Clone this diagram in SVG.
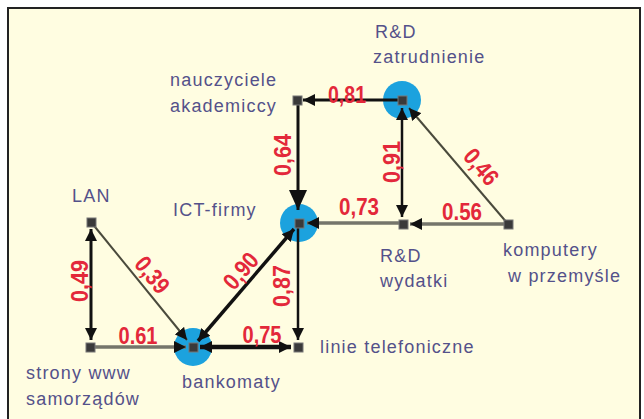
<svg xmlns="http://www.w3.org/2000/svg" width="644" height="419" viewBox="0 0 644 419">
<style>
.lbl{font-family:"Liberation Sans",Arial,sans-serif;font-size:18px;fill:#54518a;letter-spacing:1.2px}
.num{font-family:"Liberation Sans",Arial,sans-serif;font-size:24px;font-weight:bold;fill:#e3283a;text-anchor:middle}
.blk{stroke:#111;fill:none}
.gry{stroke:#75756a;fill:none;stroke-width:3.5}
.thin{stroke:#4a4a3c;fill:none;stroke-width:2}
.sq{fill:#3a3a3a;stroke:#777;stroke-width:1}
.circ{fill:#1ca2de}
</style>
<defs>
<marker id="ah" markerUnits="userSpaceOnUse" markerWidth="12" markerHeight="12" viewBox="0 0 12 12" refX="12" refY="6" orient="auto">
<path d="M0,0 L12,6 L0,12 z" fill="#111"/>
</marker>
<marker id="ahs" markerUnits="userSpaceOnUse" markerWidth="12" markerHeight="12" viewBox="0 0 12 12" refX="12" refY="6" orient="auto-start-reverse">
<path d="M0,0 L12,6 L0,12 z" fill="#111"/>
</marker>
<marker id="big" markerUnits="userSpaceOnUse" markerWidth="20" markerHeight="18" viewBox="0 0 20 18" refX="20" refY="9" orient="auto">
<path d="M0,0 L20,9 L0,18 z" fill="#111"/>
</marker>
</defs>
<rect x="0" y="0" width="644" height="419" fill="#ffffff"/>
<rect x="8" y="8" width="632" height="420" fill="#fffde1" stroke="#222" stroke-width="2"/>

<g id="circles">
<circle class="circ" cx="402" cy="100" r="19"/>
<circle class="circ" cx="299" cy="223" r="19"/>
<circle class="circ" cx="193" cy="347" r="19"/>
</g>

<g id="connectors">
<line class="blk" stroke-width="3" x1="402" y1="100" x2="303" y2="100" marker-end="url(#ah)"/>
<line class="blk" stroke-width="3" x1="298" y1="100" x2="298" y2="210" marker-end="url(#big)"/>
<line class="blk" stroke-width="2.5" x1="402" y1="108" x2="402" y2="217" marker-start="url(#ahs)" marker-end="url(#ah)"/>
<line class="thin" x1="508" y1="224" x2="409" y2="108" marker-end="url(#ah)"/>
<line class="gry" x1="508" y1="224" x2="410" y2="224" marker-end="url(#ah)"/>
<line class="gry" x1="403" y1="223" x2="307" y2="223" marker-end="url(#ah)"/>
<line class="blk" stroke-width="3.5" x1="198" y1="341" x2="294" y2="229" marker-start="url(#ahs)" marker-end="url(#ah)"/>
<line class="blk" stroke-width="2.5" x1="298" y1="223" x2="298" y2="340" marker-end="url(#ah)"/>
<line class="blk" stroke-width="4.5" x1="200" y1="347" x2="291" y2="347" marker-start="url(#ahs)" marker-end="url(#ah)"/>
<line class="gry" x1="90" y1="347" x2="186" y2="347" marker-end="url(#ah)"/>
<line class="blk" stroke-width="3" x1="91" y1="229" x2="91" y2="340" marker-start="url(#ahs)" marker-end="url(#ah)"/>
<line class="thin" x1="91" y1="222" x2="187" y2="340" marker-end="url(#ah)"/>
</g>

<g id="edge-labels">
<text class="num" x="347" y="103" textLength="38" lengthAdjust="spacingAndGlyphs">0,81</text>
<text class="num" x="359" y="215" textLength="40" lengthAdjust="spacingAndGlyphs">0,73</text>
<text class="num" x="462" y="220" textLength="40" lengthAdjust="spacingAndGlyphs">0.56</text>
<text class="num" x="262" y="343" textLength="39" lengthAdjust="spacingAndGlyphs">0,75</text>
<text class="num" x="138" y="344" textLength="39" lengthAdjust="spacingAndGlyphs">0.61</text>
<text class="num" transform="translate(283,155) rotate(-90)" x="0" y="8" textLength="42" lengthAdjust="spacingAndGlyphs">0,64</text>
<text class="num" transform="translate(392,162) rotate(-90)" x="0" y="8" textLength="42" lengthAdjust="spacingAndGlyphs">0,91</text>
<text class="num" transform="translate(282,286) rotate(-90)" x="0" y="8" textLength="42" lengthAdjust="spacingAndGlyphs">0,87</text>
<text class="num" transform="translate(80,281) rotate(-90)" x="0" y="8" textLength="42" lengthAdjust="spacingAndGlyphs">0,49</text>
<text class="num" transform="translate(152,275) rotate(51)" x="0" y="8" textLength="40" lengthAdjust="spacingAndGlyphs">0,39</text>
<text class="num" transform="translate(241,271) rotate(-49.5)" x="0" y="8" textLength="40" lengthAdjust="spacingAndGlyphs">0,90</text>
<text class="num" transform="translate(481,167) rotate(49.5)" x="0" y="8" textLength="40" lengthAdjust="spacingAndGlyphs">0,46</text>
</g>

<g id="node-nauczyciele">
<rect class="sq" x="293" y="96" width="9" height="9"/>
<text class="lbl" x="170" y="86">nauczyciele</text>
<text class="lbl" x="170" y="112">akademiccy</text>
</g>
<g id="node-rd-zatrudnienie">
<rect class="sq" x="398" y="96" width="9" height="9"/>
<text class="lbl" x="375" y="38">R&amp;D</text>
<text class="lbl" x="373" y="63">zatrudnienie</text>
</g>
<g id="node-ict-firmy">
<rect class="sq" x="295" y="219" width="9" height="9"/>
<text class="lbl" x="173" y="216">ICT-firmy</text>
</g>
<g id="node-rd-wydatki">
<rect class="sq" x="399" y="220" width="9" height="9"/>
<text class="lbl" x="380" y="262">R&amp;D</text>
<text class="lbl" x="380" y="287">wydatki</text>
</g>
<g id="node-komputery">
<rect class="sq" x="504" y="220" width="9" height="9"/>
<text class="lbl" x="503" y="256">komputery</text>
<text class="lbl" x="508" y="282">w przemyśle</text>
</g>
<g id="node-lan">
<rect class="sq" x="87" y="218" width="9" height="9"/>
<text class="lbl" x="72" y="202">LAN</text>
</g>
<g id="node-strony">
<rect class="sq" x="86" y="343" width="9" height="9"/>
<text class="lbl" x="26" y="379">strony www</text>
<text class="lbl" x="26" y="405">samorządów</text>
</g>
<g id="node-bankomaty">
<rect class="sq" x="189" y="343" width="9" height="9"/>
<text class="lbl" x="182" y="388">bankomaty</text>
</g>
<g id="node-linie">
<rect class="sq" x="294" y="343" width="9" height="9"/>
<text class="lbl" x="320" y="353">linie telefoniczne</text>
</g>
</svg>
